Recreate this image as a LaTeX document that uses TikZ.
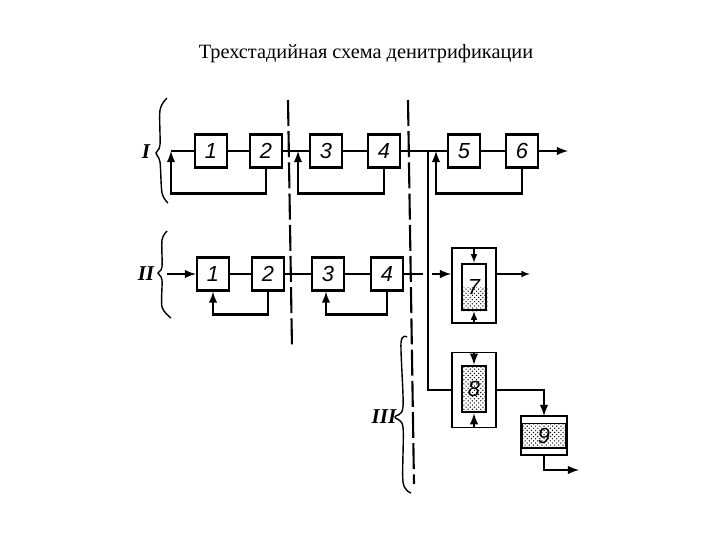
\documentclass[tikz,border=0pt]{standalone}
\usepackage{fontspec}
\setmainfont{Liberation Serif}
\setsansfont{Liberation Sans}
\usepackage{tikz}
\usetikzlibrary{positioning,shapes,arrows,patterns}

\begin{document}
\begin{tikzpicture}[node distance=1.45cm,
  block/.style={rectangle, draw, line width=1.6pt, fill=white, minimum width=0.8cm, minimum height=0.825cm, inner sep=0pt, font=\sffamily\itshape\fontsize{15.5}{15.5}\selectfont},
  frame/.style={rectangle, draw, line width=1.3pt, minimum width=1.1cm, minimum height=1.875cm},
  bed/.style={rectangle, draw, line width=1.8pt, minimum width=0.6cm, minimum height=1.15cm, inner sep=0pt, font=\sffamily\itshape\fontsize{15.5}{15.5}\selectfont},
  flow/.style={line width=1.7pt},
  thinflow/.style={line width=1.1pt},
  sep/.style={line width=1.5pt, dash pattern=on 0.65cm off 0.13cm},
  brace/.style={line width=1pt},
  stage/.style={font=\bfseries\itshape\fontsize{15}{15}\selectfont}]
\useasboundingbox (0,0) rectangle (18,-13.5);

% Title
\node (title) at (9.15,-1.33) {\fontsize{14.45}{17}\selectfont Трехстадийная схема денитрификации};

% Scheme I
\node (a1) [block] at (5.275,-3.775) {1};
\node (a2) [block, right of=a1, node distance=1.375cm] {2};
\node (a3) [block, right of=a2, node distance=1.5cm] {3};
\node (a4) [block, right of=a3] {4};
\node (a5) [block, right of=a4, node distance=2cm] {5};
\node (a6) [block, right of=a5] {6};

% Scheme II
\node (b1) [block] at (5.325,-6.85) {1};
\node (b2) [block, right of=b1, node distance=1.375cm] {2};
\node (b3) [block, right of=b2, node distance=1.5cm] {3};
\node (b4) [block, right of=b3, node distance=1.475cm] {4};

% Filters 7 and 8
\node (f7) [frame] at (11.85,-7.14) {};
\node (bed7) [bed] at (11.85,-7.175) {7};
\fill[pattern=crosshatch dots] (bed7.west) rectangle (bed7.south east);
\node (f8) [frame, below of=f7, node distance=2.61cm] {};
\node (bed8) [bed, pattern=crosshatch dots, below of=bed7, node distance=2.55cm] {8};

% Tank 9
\node (tank) [rectangle, draw, line width=1.6pt, minimum width=1.1cm, minimum height=0.925cm, inner sep=0pt, pattern=crosshatch dots, font=\sffamily\itshape\fontsize{15.5}{15.5}\selectfont] at (13.6,-10.89) {9};
\fill[white] (tank.north west) rectangle ([yshift=-0.18cm]tank.north east);
\fill[white] (tank.south west) rectangle ([yshift=0.18cm]tank.south east);
\draw[line width=0.7pt] ([yshift=-0.18cm]tank.north west) -- ([yshift=-0.18cm]tank.north east);
\draw[line width=1.8pt] ([yshift=0.18cm]tank.south west) -- ([yshift=0.18cm]tank.south east);
\draw[line width=1.6pt] (tank.north west) rectangle (tank.south east);

% Free ends
\coordinate (a1in) at (4.275,-3.775);
\coordinate (a3in) at (7.45,-3.775);
\coordinate (tap) at (10.7,-3.775);
\coordinate (a5in) at (10.9,-3.775);
\coordinate (a6out) at (14.2,-3.775);
\coordinate (b1in) at (4.175,-6.85);
\coordinate (b4out) at (10.58,-6.85);
\coordinate (f7in) at (10.8,-6.85);
\coordinate (f7out) at (13.25,-6.85);
\coordinate (out9) at (14.475,-11.75);

% Arrows of scheme I
\draw[flow] (a1) -- (a1in);
\draw[flow] (a1) -- (a2);
\draw[flow] (a2) -- (a3);
\draw[flow] (a3) -- (a4);
\draw[flow] (a4) -- (a5);
\draw[flow] (a5) -- (a6);
\draw[flow, -latex] (a6) -- (a6out);
\draw[flow, -latex] (a2.south) -- ++(0,-0.625) -| (a1in);
\draw[flow, -latex] (a4.south) -- ++(0,-0.625) -| (a3in);
\draw[flow, -latex] (a6.south) -- ++(0,-0.625) -| (a5in);

% Arrows of scheme II
\draw[flow, -latex] (b1in) -- (b1);
\draw[flow] (b1) -- (b2);
\draw[flow] (b2) -- (b3);
\draw[flow] (b3) -- (b4);
\draw[thinflow] (b4) -- (b4out);
\draw[flow, -latex] (b2.south) -- ++(0,-0.575) -| (b1.south);
\draw[flow, -latex] (b4.south) -- ++(0,-0.575) -| ([xshift=-0.05cm]b3.south);

% Arrows of scheme III
\draw[flow] (tap) |- (f8.west);
\draw[flow, -latex] (f7in) -- (f7.west |- f7in);
\draw[thinflow, -latex] (f7.east |- f7out) -- (f7out);
\draw[thinflow, -latex] (f7.north) -- (bed7.north);
\draw[thinflow, -latex] (f7.south) -- (bed7.south);
\draw[flow, -latex] (f8.north) -- (bed8.north);
\draw[flow, -latex] (f8.south) -- (bed8.south);
\draw[flow, -latex] (f8.east) -| (tank.north);
\draw[flow, -latex] (tank.south) |- (out9);

% Dividing lines
\draw[sep] (7.2,-2.5) -- (7.3,-8.7);
\draw[sep] (10.2,-2.5) -- (10.35,-12.1);

% Braces
\draw[brace] plot[smooth, tension=0.5] coordinates {(4.175,-2.45) (4,-2.75) (4,-3.625) (3.9,-3.825) (4,-4.05) (4.05,-4.825) (4.2,-5.075)};
\draw[brace] plot[smooth, tension=0.5] coordinates {(4.175,-5.775) (4.05,-6) (4.05,-6.675) (3.95,-6.825) (4.05,-7) (4.05,-7.675) (4.275,-7.95)};
\draw[brace] plot[smooth, tension=0.5] coordinates {(10.175,-8.425) (10.025,-8.575) (10.075,-10.175) (9.875,-10.425) (10.075,-10.675) (10.075,-12.05) (10.275,-12.325)};

% Stage labels
\node (stage1) [stage] at (3.65,-3.8) {I};
\node (stage2) [stage] at (3.65,-6.85) {II};
\node (stage3) [stage] at (9.6,-10.42) {III};
\end{tikzpicture}
\end{document}
